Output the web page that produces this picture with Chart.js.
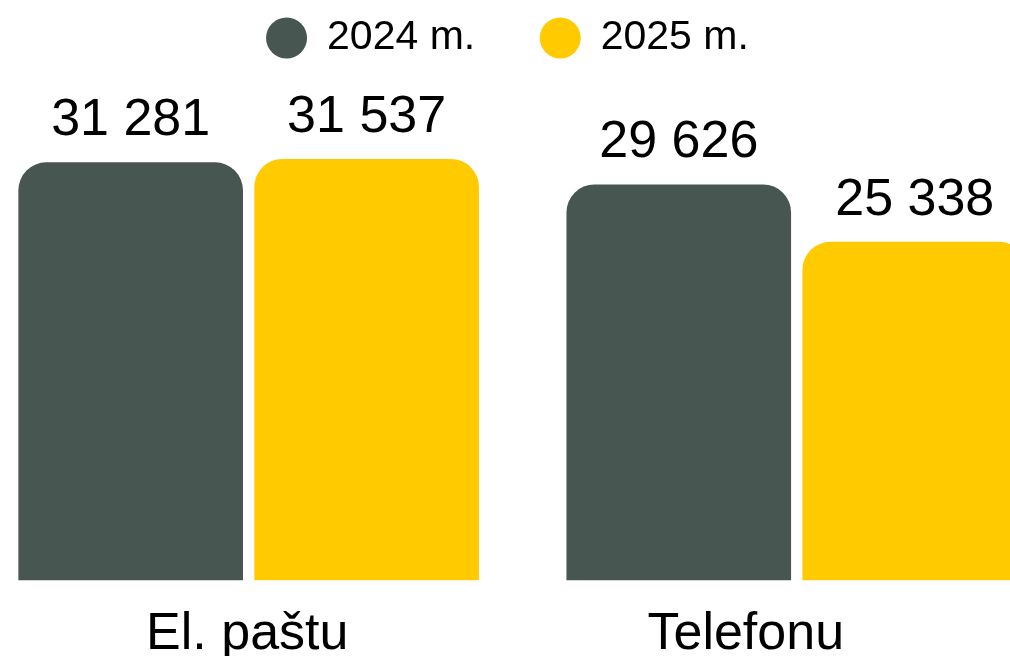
<!DOCTYPE html>
<html>
<head>
<meta charset="utf-8">
<script src="https://cdn.jsdelivr.net/npm/chart.js@4/dist/chart.umd.min.js"></script>
<style>
  html, body { margin: 0; padding: 0; overflow: hidden; background: #fff; }
  body { width: 1010px; height: 656px; position: relative; }
  #myChart { position: absolute; left: -80px; top: -60px; }
</style>
</head>
<body>
<canvas id="myChart" width="1160" height="752"></canvas>
<script>
const categories = ["El. paštu", "Telefonu"];
const seriesNames = ["2024 m.", "2025 m."];
const values2024 = [31281, 29626];
const values2025 = [31537, 25338];
const seriesColors = ["#475651", "#FFCB00"];
const yMax = 38300;

Chart.defaults.font.family = "'Liberation Sans', Arial, sans-serif";
Chart.defaults.color = "#000";

const formatValue = (v) => String(v).replace(/\B(?=(\d{3})+(?!\d))/g, " ");

// value labels above the bars
const barValues = {
  id: "barValues",
  afterDatasetsDraw(chart) {
    const ctx = chart.ctx;
    ctx.save();
    ctx.font = "52px 'Liberation Sans', Arial, sans-serif";
    ctx.fillStyle = "#000";
    ctx.textAlign = "center";
    ctx.textBaseline = "alphabetic";
    chart.data.datasets.forEach((ds, i) => {
      chart.getDatasetMeta(i).data.forEach((bar, j) => {
        ctx.fillText(formatValue(ds.data[j]), bar.x, bar.y - 27);
      });
    });
    ctx.restore();
  },
};

const ctx = document.getElementById("myChart").getContext("2d");

const data = {
  labels: categories,
  datasets: [
    {
      label: seriesNames[0],
      data: values2024,
      backgroundColor: seriesColors[0],
      borderRadius: 28,
      borderSkipped: "bottom",
      categoryPercentage: 0.861,
      barPercentage: 0.952,
    },
    {
      label: seriesNames[1],
      data: values2025,
      backgroundColor: seriesColors[1],
      borderRadius: 28,
      borderSkipped: "bottom",
      categoryPercentage: 0.861,
      barPercentage: 0.952,
    },
  ],
};

const config = {
  type: "bar",
  data: data,
  plugins: [barValues],
  options: {
    responsive: false,
    animation: false,
    layout: { padding: { top: 12.5, left: 24.6, right: 9.2, bottom: 11 } },
    plugins: {
      tooltip: { enabled: false },
      legend: {
        position: "top",
        labels: {
          usePointStyle: true,
          pointStyle: "circle",
          boxWidth: 40,
          boxHeight: 29,
          padding: 65,
          font: { size: 41 },
          color: "#000",
        },
      },
    },
    scales: {
      x: { display: false },
      x2: {
        type: "linear",
        position: "bottom",
        bounds: "data",
        offset: false,
        min: -0.547,
        max: 1.652,
        afterBuildTicks: (scale) => {
          scale.ticks = categories.map((c, i) => ({ value: i }));
        },
        grid: { display: false, offset: false },
        border: { display: false },
        ticks: {
          padding: 15,
          autoSkip: false,
          maxRotation: 0,
          font: { size: 52 },
          color: "#000",
          callback: (value) => categories[value],
        },
      },
      y: {
        min: 0,
        max: yMax,
        grid: { display: false },
        border: { display: false },
        ticks: { display: false },
        afterFit: (scale) => {
          scale.width = 30;
        },
      },
    },
  },
};

const myChart = new Chart(ctx, config);
</script>
</body>
</html>
